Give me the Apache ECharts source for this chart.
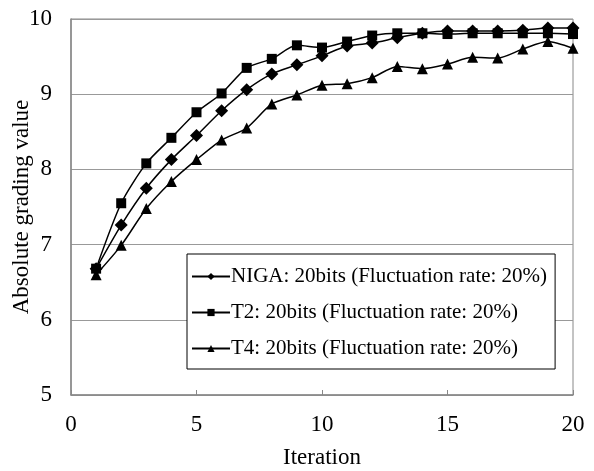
<!DOCTYPE html>
<html>
<head>
<meta charset="utf-8">
<script src="https://cdn.jsdelivr.net/npm/echarts@6/dist/echarts.min.js"></script>
<style>html,body{margin:0;padding:0;background:#fff}#c{width:594px;height:471px}</style>
</head>
<body>
<div id="c"></div>
<script>
const iterations = [1,2,3,4,5,6,7,8,9,10,11,12,13,14,15,16,17,18,19,20];
const nigaValues = [6.68,7.26,7.75,8.13,8.45,8.78,9.06,9.27,9.39,9.51,9.64,9.68,9.75,9.81,9.84,9.84,9.84,9.85,9.88,9.88];
const t2Values   = [6.68,7.55,8.08,8.42,8.76,9.01,9.35,9.47,9.65,9.62,9.70,9.78,9.81,9.81,9.80,9.81,9.81,9.81,9.81,9.80];
const t4Values   = [6.60,6.99,7.48,7.84,8.13,8.39,8.55,8.87,8.99,9.12,9.14,9.22,9.37,9.34,9.40,9.49,9.48,9.60,9.70,9.61];
const seriesNames = ['NIGA: 20bits (Fluctuation rate: 20%)','T2: 20bits (Fluctuation rate: 20%)','T4: 20bits (Fluctuation rate: 20%)'];
const xTicks = [0,5,10,15,20];
const yTicks = [5,6,7,8,9,10];

const font = 'Liberation Serif';
function pairs(vals){ return iterations.map((x,i)=>[x, vals[i]]); }
function mk(name, vals, symbol, size){
  return {
    name, type:'line', data: pairs(vals), symbol, symbolSize: size, smooth: 0.25,
    lineStyle:{color:'#000', width:1.5}, itemStyle:{color:'#000'}, z: 3
  };
}
const chart = echarts.init(document.getElementById('c'));
chart.setOption({
  animation:false,
  backgroundColor:'#fff',
  grid:{left:71, right:21, top:19, bottom:76, show:true, borderColor:'#888', borderWidth:1, containLabel:false, outerBoundsMode:'none'},
  xAxis:{
    type:'value', min:xTicks[0], max:xTicks[xTicks.length-1], interval:5,
    name:'Iteration', nameLocation:'middle', nameGap:51, nameMoveOverlap:false,
    nameTextStyle:{fontFamily:font, fontSize:23, color:'#000'},
    axisLine:{show:true, lineStyle:{color:'#888', width:1.5}},
    axisTick:{show:true, inside:true, length:5, lineStyle:{color:'#888'}},
    axisLabel:{fontFamily:font, fontSize:23, color:'#000', margin:18},
    splitLine:{show:false}
  },
  yAxis:{
    type:'value', min:yTicks[0], max:yTicks[yTicks.length-1], interval:1,
    name:'Absolute grading value', nameLocation:'middle', nameGap:38, nameMoveOverlap:false,
    nameTextStyle:{fontFamily:font, fontSize:23, color:'#000'},
    axisLine:{show:true, lineStyle:{color:'#888', width:1.5}},
    axisTick:{show:false},
    axisLabel:{fontFamily:font, fontSize:23, color:'#000', margin:19},
    splitLine:{show:true, lineStyle:{color:'#999', width:1.2}}
  },
  legend:{
    orient:'vertical', left:187, top:254, width:366,
    backgroundColor:'#fff', borderColor:'#000', borderWidth:1,
    padding:[12, 8, 10, 4], itemGap:15, itemWidth:38, itemHeight:9,
    textStyle:{fontFamily:font, fontSize:21, color:'#000', padding:[0,0,0,-4]},
    data: seriesNames
  },
  series:[
    mk(seriesNames[0], nigaValues, 'diamond', 13),
    mk(seriesNames[1], t2Values, 'rect', 10),
    mk(seriesNames[2], t4Values, 'triangle', 11)
  ]
});
</script>
</body>
</html>
